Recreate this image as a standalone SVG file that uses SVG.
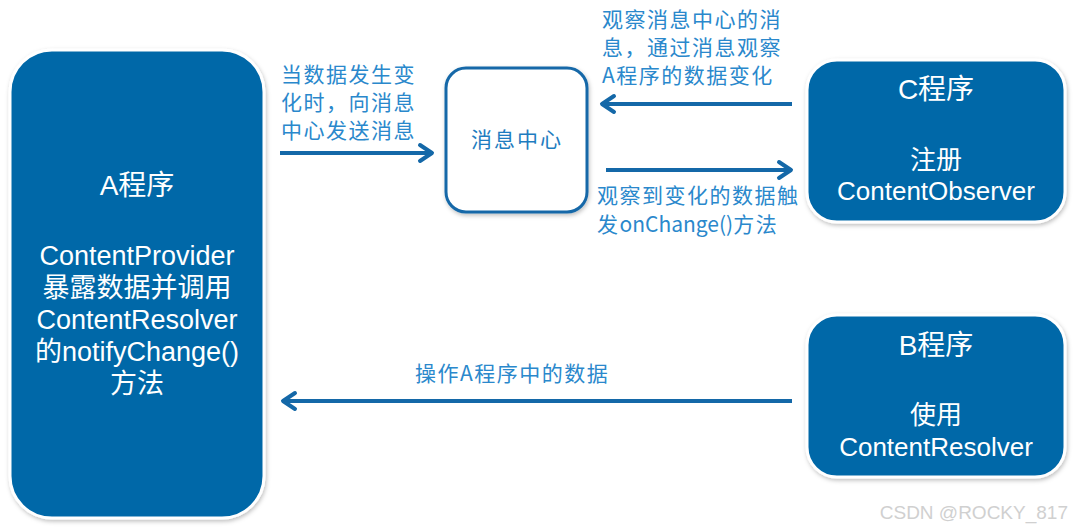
<svg xmlns="http://www.w3.org/2000/svg" width="1073" height="530" viewBox="0 0 1073 530">
<style>
.box{fill:#0068A8;stroke:#ffffff;stroke-width:3;filter:url(#sh)}
.wt{fill:#ffffff;font-family:"Liberation Sans","Noto Sans CJK SC",sans-serif;text-anchor:middle}
.lbl{fill:#2A88CC;font-family:"Noto Sans CJK SC",sans-serif;font-size:21px;letter-spacing:1.5px}
.conn{stroke:#1468A8;stroke-width:4;fill:none}
.head{stroke:#1468A8;stroke-width:4;fill:none;stroke-linecap:round;stroke-linejoin:round}
</style>
<defs>
<filter id="sh" x="-10%" y="-10%" width="120%" height="120%">
<feDropShadow dx="1" dy="2" stdDeviation="2" flood-color="#000000" flood-opacity="0.25"/>
</filter>
</defs>
<rect width="1073" height="530" fill="#ffffff"/>
<g id="nodeA">
<rect class="box" x="10" y="50" width="254" height="468" rx="42"/>
<text class="wt" x="137" y="195" font-size="28">A程序</text>
<text class="wt" x="137" y="265" font-size="27">ContentProvider</text>
<text class="wt" x="137" y="297" font-size="27">暴露数据并调用</text>
<text class="wt" x="137" y="329" font-size="27">ContentResolver</text>
<text class="wt" x="137" y="361" font-size="27">的notifyChange()</text>
<text class="wt" x="137" y="393" font-size="27">方法</text>
</g>
<g id="nodeMsg">
<rect x="446" y="68" width="141" height="144" rx="20" fill="#ffffff" stroke="#1468A8" stroke-width="3" filter="url(#sh)"/>
<text x="517" y="147" font-family="Noto Sans CJK SC,sans-serif" font-size="21" letter-spacing="2" fill="#1E7CC0" text-anchor="middle">消息中心</text>
</g>
<g id="nodeC">
<rect class="box" x="807" y="60" width="258" height="162" rx="30"/>
<text class="wt" x="936" y="99" font-size="28">C程序</text>
<text class="wt" x="936" y="169" font-size="26">注册</text>
<text class="wt" x="936" y="200" font-size="26">ContentObserver</text>
</g>
<g id="nodeB">
<rect class="box" x="807" y="315" width="258" height="162" rx="30"/>
<text class="wt" x="936" y="355" font-size="28">B程序</text>
<text class="wt" x="936" y="424" font-size="26">使用</text>
<text class="wt" x="936" y="456" font-size="26">ContentResolver</text>
</g>
<g id="connectors">
<line class="conn" x1="280" y1="153" x2="431" y2="153"/>
<polyline class="head" points="420,145 432,153 420,161"/>
<line class="conn" x1="792" y1="104" x2="604" y2="104"/>
<polyline class="head" points="614,96 602,104 614,112"/>
<line class="conn" x1="606" y1="170" x2="790" y2="170"/>
<polyline class="head" points="779,162 791,170 779,178"/>
<line class="conn" x1="792" y1="401" x2="285" y2="401"/>
<polyline class="head" points="295,393 283,401 295,409"/>
</g>
<g id="labels">
<text class="lbl" x="281" y="82">当数据发生变</text>
<text class="lbl" x="281" y="110">化时，向消息</text>
<text class="lbl" x="281" y="138">中心发送消息</text>
<text class="lbl" x="602" y="27">观察消息中心的消</text>
<text class="lbl" x="602" y="55">息，通过消息观察</text>
<text class="lbl" x="602" y="83">A程序的数据变化</text>
<text class="lbl" x="597" y="203">观察到变化的数据触</text>
<text class="lbl" x="597" y="232">发<tspan letter-spacing="0">onChange()</tspan>方法</text>
<text class="lbl" x="415" y="381" letter-spacing="0.5">操作A程序中的数据</text>
</g>
<text x="1068" y="519" font-family="Liberation Sans,sans-serif" font-size="19" fill="#D0D0D0" text-anchor="end">CSDN @ROCKY_817</text>
</svg>
